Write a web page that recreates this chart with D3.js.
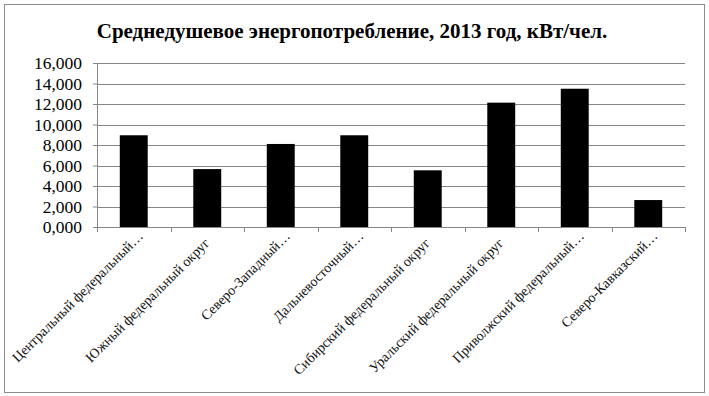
<!DOCTYPE html>
<html>
<head>
<meta charset="utf-8">
<script src="https://cdn.jsdelivr.net/npm/d3@7"></script>
<style>
  body { margin: 0; background: #fff; }
  svg { display: block; }
</style>
</head>
<body>
<div class="chart"></div>
<script>
const regions = ["Центральный федеральный…", "Южный федеральный округ", "Северо-Западный…",
  "Дальневосточный…", "Сибирский федеральный округ", "Уральский федеральный округ",
  "Приволжский федеральный…", "Северо-Кавказский…"]
const values = [8950, 5650, 8100, 8950, 5530, 12130, 13490, 2630]
const yTicks = [0, 2000, 4000, 6000, 8000, 10000, 12000, 14000, 16000]
const yTickLabels = ["0,000", "2,000", "4,000", "6,000", "8,000", "10,000", "12,000", "14,000", "16,000"]
const title = "Среднедушевое энергопотребление, 2013 год, кВт/чел."

const W = 709, H = 396
const m = {top: 63, right: 24, bottom: 169, left: 97} // plot area inside the frame
const width = W - m.left - m.right,
    height = H - m.top - m.bottom
const serif = "'Liberation Serif', 'Times New Roman', serif"

const svg = d3.select(".chart").append("svg")
    .attr("width", W).attr("height", H)
    .style("font-family", serif)

// outer frame
svg.append("rect")
    .attr("x", 4.5).attr("y", 4.5).attr("width", 700).attr("height", 388)
    .attr("fill", "#fff").attr("stroke", "#8c8c8c")

svg.append("text")
    .attr("x", 352).attr("y", 38)
    .attr("text-anchor", "middle")
    .style("font-size", "21px").style("font-weight", "bold")
    .text(title)

const g = svg.append("g").attr("transform", `translate(${m.left}, ${m.top})`)

const x = d3.scaleBand().domain(regions).range([0, width]).paddingInner(0.62).paddingOuter(0.31)
const y = d3.scaleLinear().domain([0, 16000]).range([height, 0])

// gridlines
g.append("g").selectAll("line")
  .data(yTicks)
  .join("line")
  .attr("x1", 0).attr("x2", width)
  .attr("y1", d => Math.round(y(d)) + 0.5).attr("y2", d => Math.round(y(d)) + 0.5)
  .attr("stroke", "#868686")

// y axis
const yAxis = g.append("g")
    .call(d3.axisLeft(y).tickValues(yTicks).tickSize(4).tickPadding(11)
      .tickFormat((d, i) => yTickLabels[i]))
yAxis.select(".domain").attr("stroke", "#868686")
yAxis.selectAll("line").attr("stroke", "#868686")
yAxis.selectAll("text").attr("fill", "#000")
    .style("font-size", "17.5px").style("font-family", serif)

// bars
g.append("g").selectAll("rect")
  .data(values)
  .join("rect")
  .attr("x", (d, i) => x(regions[i]))
  .attr("y", d => y(d))
  .attr("width", x.bandwidth())
  .attr("height", d => height - y(d))
  .attr("fill", "#000")

// x axis line with ticks at category boundaries
const step = width / regions.length
const xg = g.append("g").attr("transform", `translate(0, ${height})`)
xg.append("line").attr("x1", 0).attr("x2", width).attr("y1", 0.5).attr("y2", 0.5).attr("stroke", "#868686")
xg.selectAll("line.tk")
  .data(d3.range(regions.length + 1))
  .join("line").attr("class", "tk")
  .attr("x1", i => Math.round(i * step) + 0.5).attr("x2", i => Math.round(i * step) + 0.5)
  .attr("y1", 0).attr("y2", 5)
  .attr("stroke", "#868686")

// rotated category labels; truncated ones sit a bit further along the baseline
xg.selectAll("text")
  .data(regions)
  .join("text")
  .attr("transform", d => `translate(${x(d) + x.bandwidth() / 2 + 3}, 17) rotate(-45)`)
  .attr("dx", d => d.endsWith("…") ? 10 : 0)
  .attr("text-anchor", "end")
  .attr("fill", "#111")
  .style("font-size", "14px")
  .text(d => d)
</script>
</body>
</html>
